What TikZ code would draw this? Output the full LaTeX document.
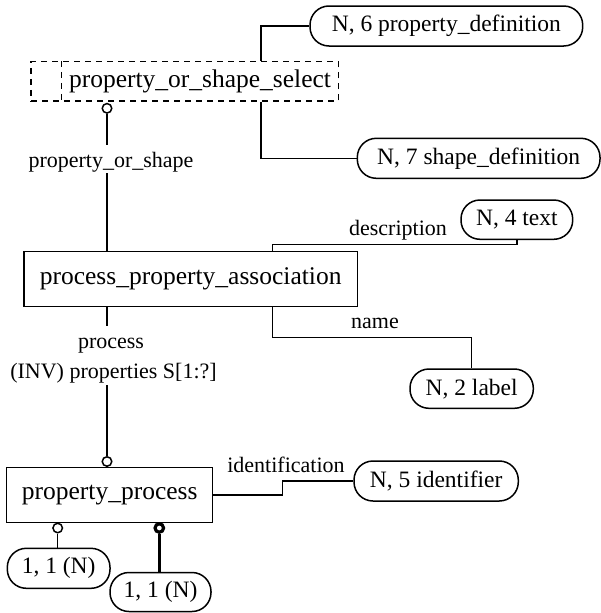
\documentclass[tikz,border=0pt]{standalone}
\usepackage{fontspec}
\setmainfont{Liberation Serif}
\begin{document}
\begin{tikzpicture}[x=1pt,y=-1pt,line width=1.5pt,
  entity/.style={draw,rectangle,inner sep=0pt,font=\fontsize{25.5}{28}\selectfont},
  ref/.style={draw,rectangle,rounded corners=19pt,inner sep=0pt,font=\fontsize{23.5}{26}\selectfont},
  role/.style={inner sep=0pt,font=\fontsize{22}{24}\selectfont},
  selectbox/.style={draw,rectangle,inner sep=0pt,dash pattern=on 6pt off 5pt},
  ring/.style={circle,draw,fill=white,inner sep=0pt,minimum size=9.5pt},
  thickring/.style={ring,line width=3.2pt,minimum size=8.5pt},
  thickline/.style={line width=3.2pt}]
\useasboundingbox (0,0) rectangle (601,613);

% select type
\node[selectbox,minimum width=307.3pt,minimum height=39.3pt] (sel) at (184.65,81.35) {};
\node[inner sep=0pt,font=\fontsize{25.5}{28}\selectfont] (selt) at (200,81.35) {property\_or\_shape\_select};
\draw[dash pattern=on 6pt off 5pt] (61.7,0 |- sel.north) -- (61.7,0 |- sel.south);

% entities
\node[entity,minimum width=333.3pt,minimum height=55pt] (ppa) at (190.65,279.2) {process\_property\_association};
\node[entity,minimum width=206pt,minimum height=55pt] (pp) at (109.7,494.8) {property\_process};

% referenced definitions
\node[ref,minimum width=272.7pt,minimum height=40pt] (pdef) at (446.35,26) {N, 6 property\_definition};
\node[ref,minimum width=242.7pt,minimum height=40pt] (sdef) at (478.65,158.3) {N, 7 shape\_definition};
\node[ref,minimum width=111.7pt,minimum height=39.3pt] (text4) at (516.85,219.65) {N, 4 text};
\node[ref,minimum width=123.3pt,minimum height=39.3pt] (lab2) at (471.65,388.65) {N, 2 label};
\node[ref,minimum width=164.3pt,minimum height=40pt] (id5) at (436.15,481) {N, 5 identifier};
\node[ref,minimum width=102.7pt,minimum height=40pt] (c1) at (58.65,568.3) {1, 1 (N)};
\node[ref,minimum width=101pt,minimum height=39pt] (c2) at (160.5,592) {1, 1 (N)};

% attribute and role names
\node[role,anchor=base] (lpos) at (111,167) {property\_or\_shape};
\node[role,anchor=base] (ldesc) at (398,235) {description};
\node[role,anchor=base] (lname) at (375,328) {name};
\node[role,anchor=base] (lproc) at (111,348) {process};
\node[role,anchor=base] (linv) at (113.5,378.3) {(INV) properties S[1:?]};
\node[role,anchor=base] (lid) at (286,472) {identification};

% select branches
\coordinate (s1) at (261,26);
\coordinate (s2) at (261,158.3);
\draw (s1 |- sel.north) -- (s1) -- (pdef.west);
\draw (s2 |- sel.south) -- (s2) -- (sdef.west);

% property_or_shape relationship
\node[ring] (r1) at (107,108.3) {};
\coordinate (k1) at (107,145);
\coordinate (k2) at (107,173);
\draw (r1.south) -- (k1);
\draw (k2) -- (k2 |- ppa.north);

% description and name
\coordinate (d1) at (272.3,244.3);
\coordinate (d2) at (516.85,244.3);
\draw (d1 |- ppa.north) -- (d1) -- (d2) -- (text4.south);
\coordinate (n1) at (272.3,337.3);
\coordinate (n2) at (471.65,337.3);
\draw (n1 |- ppa.south) -- (n1) -- (n2) -- (lab2.north);

% process relationship
\node[ring] (r2) at (107,461.5) {};
\coordinate (p1) at (107,325.7);
\coordinate (p2) at (107,385);
\draw (p1 |- ppa.south) -- (p1);
\draw (p2) -- (r2.north);

% identification
\coordinate (i1) at (282.3,494.8);
\coordinate (i2) at (282.3,481);
\draw (pp.east) -- (i1) -- (i2) -- (id5.west);

% constraints below property_process
\node[ring] (r3) at (57.7,528) {};
\draw (r3.south) -- (c1.north -| r3.south);
\node[thickring] (r4) at (159.3,528) {};
\draw[thickline] (r4.south) -- (c2.north -| r4.south);
\end{tikzpicture}
\end{document}
